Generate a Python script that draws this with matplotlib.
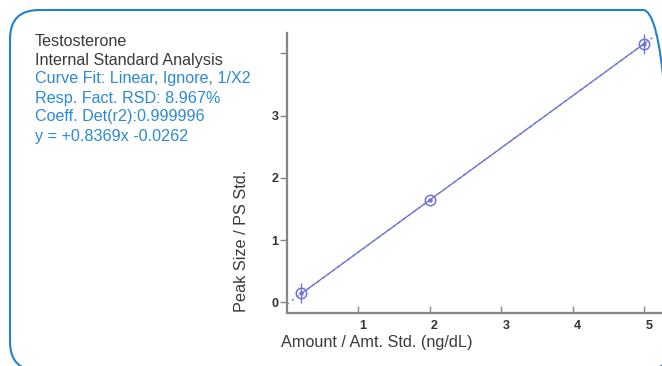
import matplotlib
matplotlib.use("Agg")
import matplotlib.pyplot as plt
import matplotlib.transforms as mtrans
from matplotlib.patches import FancyBboxPatch
import numpy as np

# ---- data ----
amounts = [0.2, 2.0, 5.0]
responses = [0.15, 1.65, 4.15]
slope = 0.8369
intercept = -0.0262
x_ticks = [1, 2, 3, 4, 5]
x_ticklabels = ["1", "2", "3", "4", "5"]
y_ticks = [0, 1, 2, 3, 4]
y_ticklabels = ["0", "1", "2", "3", ""]
info_black = ["Testosterone", "Internal Standard Analysis"]
info_blue = ["Curve Fit: Linear, Ignore, 1/X2",
             "Resp. Fact. RSD: 8.967%",
             "Coeff. Det(r2):0.999996",
             "y = +0.8369x -0.0262"]
x_label = "Amount / Amt. Std. (ng/dL)"
y_label = "Peak Size / PS Std."

W, H = 662, 366
plt.rcParams['font.family'] = ['Liberation Sans', 'DejaVu Sans']
fig = plt.figure(figsize=(W / 100, H / 100), dpi=100)
fig.patch.set_facecolor("white")

# rounded frame (pixel coords)
box = FancyBboxPatch((10, H - 370.7), 662, 360.7,
                     boxstyle="round,pad=0,rounding_size=29",
                     transform=mtrans.IdentityTransform(),
                     facecolor="none", edgecolor="#1f82d2", linewidth=1.5,
                     clip_on=False)
fig.patches.append(box)

# axes
ax = fig.add_axes([287 / W, 1 - 313 / H, (W - 287) / W, (313 - 33) / H])
ax.set_xlim(0, 5.245)
ax.set_ylim(-0.169, 4.326)
ax.patch.set_alpha(0)
for s in ["top", "right"]:
    ax.spines[s].set_visible(False)
for s in ["left", "bottom"]:
    ax.spines[s].set_color("#858585")
    ax.spines[s].set_linewidth(1.6)

line_col = "#7075d4"
xs = np.array([0.0, 5.4])
ax.plot(xs, slope * xs + intercept, color=line_col, lw=1.0, ls=(0, (1.5, 3)))
xf = np.array([amounts[0], amounts[-1]])
ax.plot(xf, slope * xf + intercept, color=line_col, lw=1.0)
ax.plot(amounts, responses, ls="none", marker="o", ms=7.5, mfc="none",
        mec=line_col, mew=1.1)
ax.plot(amounts, responses, ls="none", marker="o", ms=2.2, mfc=line_col,
        mec=line_col)
ax.plot([amounts[0], amounts[-1]], [responses[0], responses[-1]], ls="none",
        marker="|", ms=15, mec=line_col, mew=1.0)

ax.set_xticks(x_ticks)
ax.set_xticklabels(x_ticklabels)
ax.set_yticks(y_ticks)
ax.set_yticklabels(y_ticklabels)
ax.tick_params(axis="x", direction="in", length=5, width=1, color="#858585",
               pad=5, labelsize=9, labelcolor="#333333")
ax.tick_params(axis="y", direction="out", length=5, width=1, color="#858585",
               pad=1, labelsize=9, labelcolor="#333333")
for lab in ax.get_xticklabels():
    lab.set_fontweight("bold")
    lab.set_transform(lab.get_transform() +
                      mtrans.ScaledTranslation(4.5 / 100, 0, fig.dpi_scale_trans))
for lab in ax.get_yticklabels():
    lab.set_fontweight("bold")

# labels
fig.text(377 / W, 1 - 342 / H, x_label, ha="center", va="center",
         fontsize=11.7, color="#3a3a3a")
fig.text(241 / W, 1 - 241 / H, y_label, ha="center", va="center",
         rotation=90, fontsize=11.7, color="#3a3a3a")

# info block
ys = [41, 60, 79, 98, 117, 136]
lines = info_black + info_blue
for i, (t, yy) in enumerate(zip(lines, ys)):
    col = "#3a3a3a" if i < len(info_black) else "#2a8ad4"
    fig.text(35 / W, 1 - yy / H, t, ha="left", va="center",
             fontsize=11.6, color=col)

fig.savefig("out.png", dpi=100)
